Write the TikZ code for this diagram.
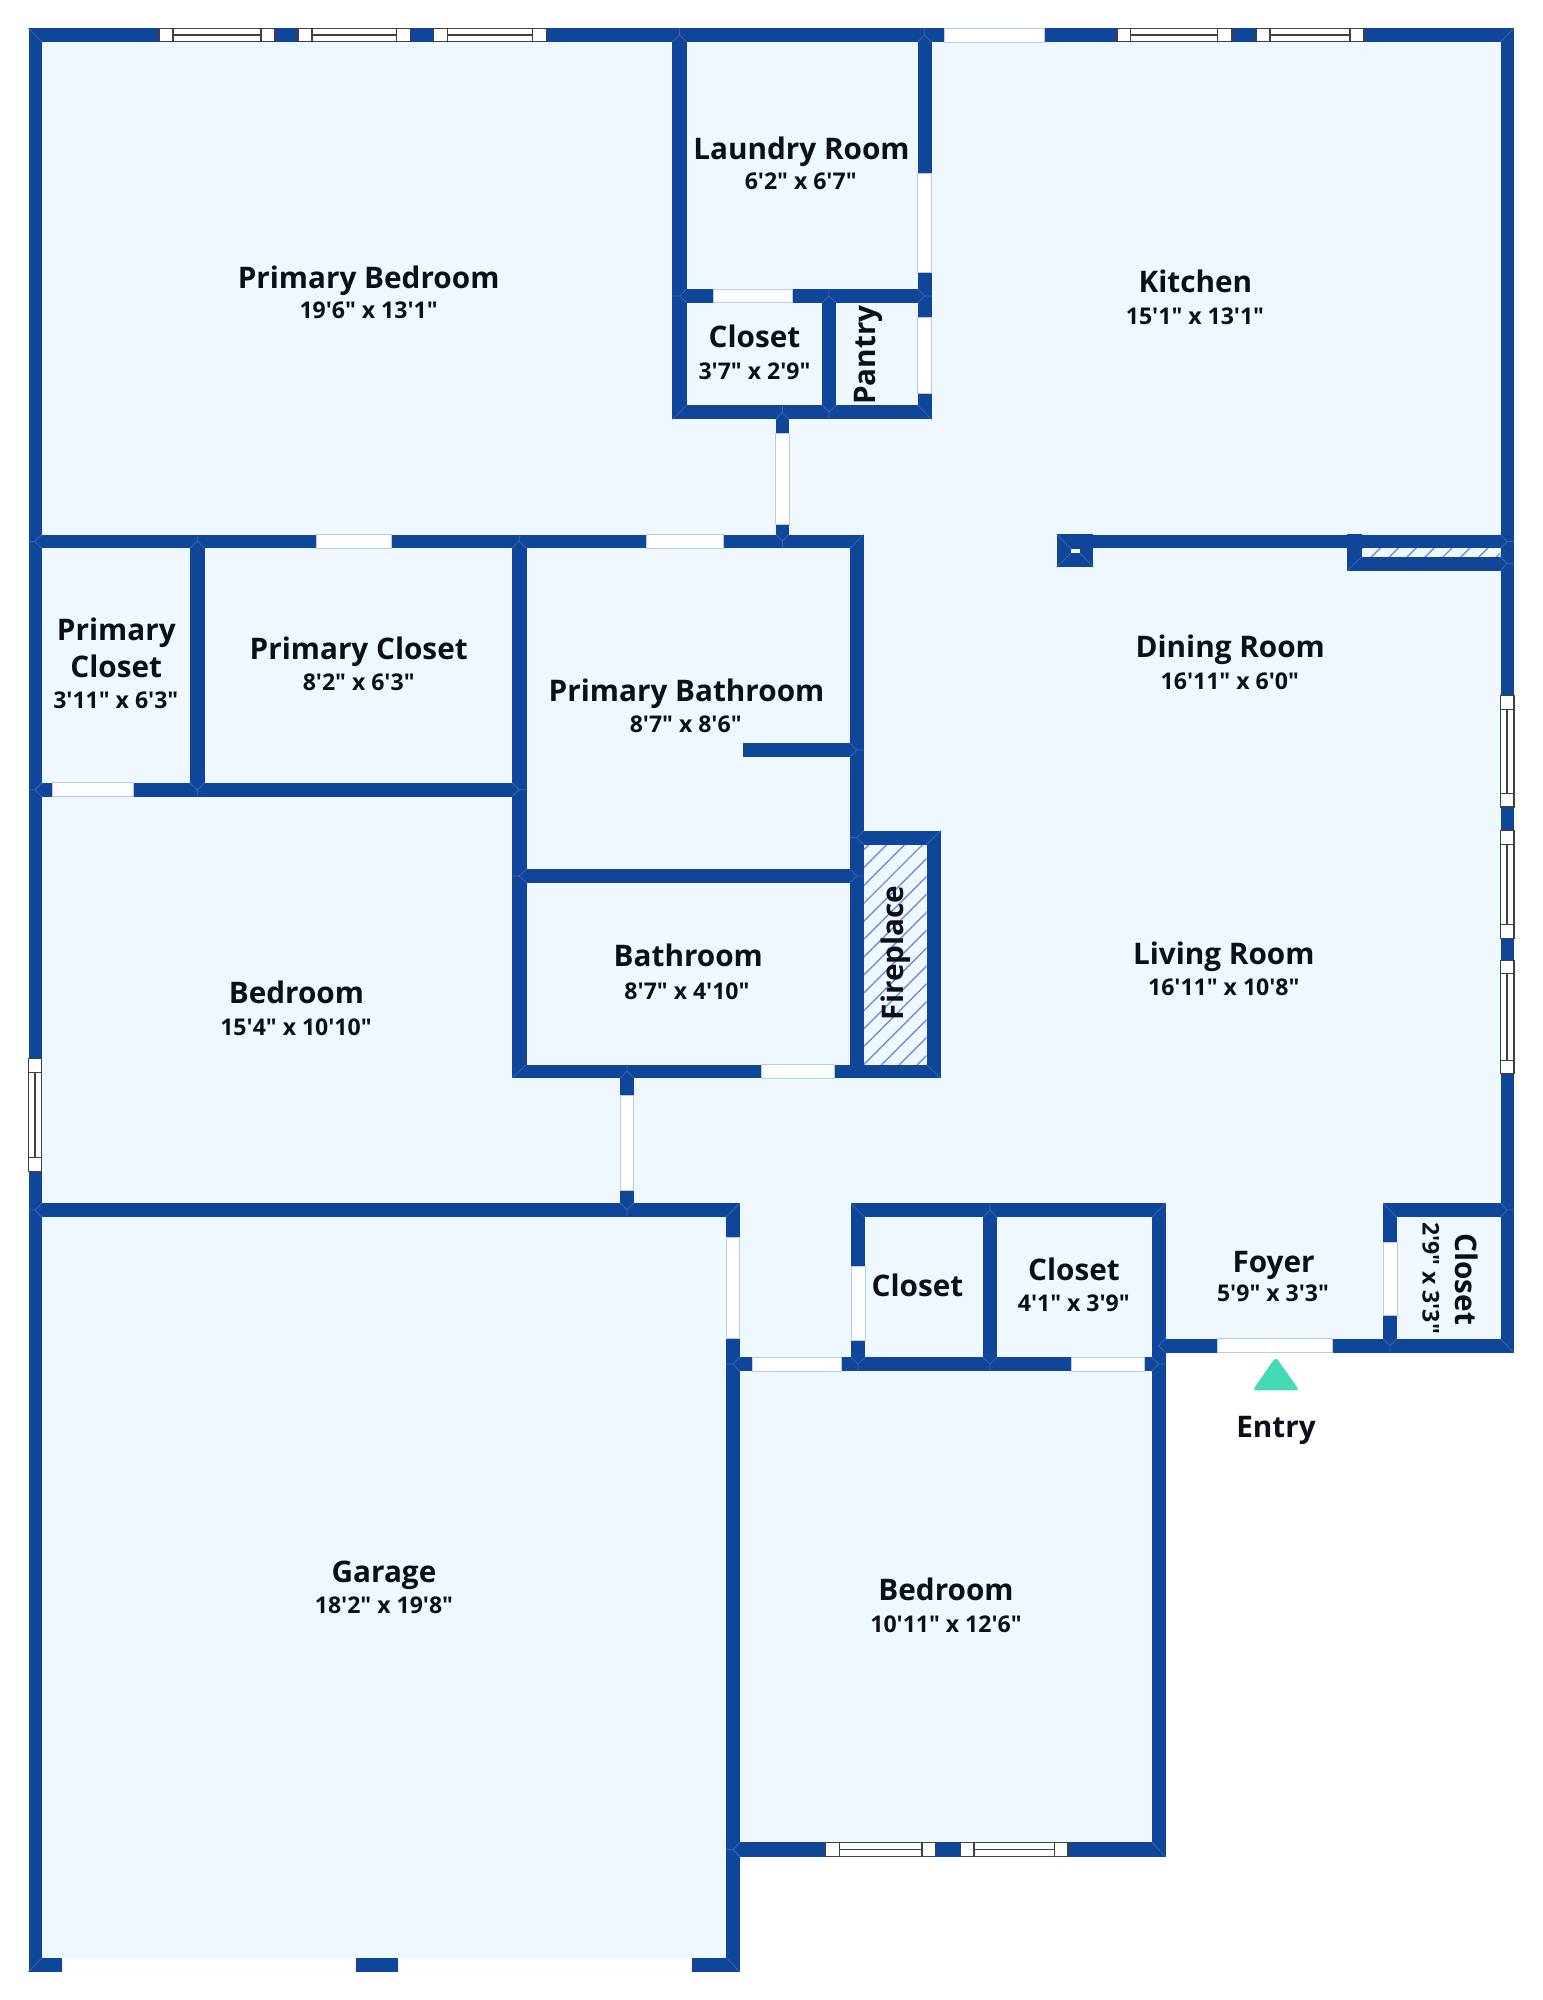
\documentclass[tikz,border=0pt]{standalone}
\usepackage{fontspec}
\setmainfont{Open Sans}
\newfontfamily\labelfont{Open Sans}
\usetikzlibrary{patterns.meta}
\definecolor{wallblue}{HTML}{0F4699}
\definecolor{roomblue}{HTML}{F0F8FF}
\definecolor{doorline}{HTML}{B8CAE6}
\definecolor{seamblue}{HTML}{3A69B0}
\definecolor{entrygreen}{HTML}{45D9B5}
\definecolor{hatchblue}{HTML}{6C93CF}
\definecolor{textblack}{HTML}{0B0F1A}
\begin{document}
\begin{tikzpicture}[x=0.01cm,y=-0.01cm,
    wall/.style={fill=wallblue},
    seam/.style={draw=seamblue,line width=0.2pt},
    door/.style={fill=white,draw=doorline,line width=0.25pt},
    window/.style={fill=white,draw=black!75,line width=0.3pt},
    hatchbox/.style={pattern={Lines[angle=45,distance=3.6pt,line width=0.4pt]},pattern color=hatchblue},
    roomname/.style={font=\labelfont\bfseries\fontsize{8.45}{10}\selectfont,text=textblack,inner sep=0pt,text height=6.3pt,text depth=0pt},
    roomdim/.style={font=\labelfont\bfseries\fontsize{6.55}{8}\selectfont,text=textblack,inner sep=0pt,text height=5pt,text depth=0pt}]
    \useasboundingbox (0,0) rectangle (1542,2000);

    % floor
    \fill[roomblue] (28.5,28.3) -| (1514,1352.7) -| (1165.5,1856.7) -| (740,1971.7) -| cycle;

    % hatching
    \fill[hatchbox] (863.7,844.5) rectangle (926.6,1064.6);
    \fill[hatchbox] (1361.6,548) rectangle (1500.3,556.7);

    % outer walls
    \fill[wall] (28.5,28.3) rectangle (1514,42);
    \fill[wall] (28.5,28.3) rectangle (41.8,1971.7);
    \fill[wall] (1500.5,28.3) rectangle (1514,1352.7);
    \fill[wall] (28.5,1957.7) rectangle (739.8,1971.7);
    \fill[wall] (726.3,1203.3) rectangle (739.8,1971.7);
    \fill[wall] (1151.7,1338.7) rectangle (1514,1352.7);
    \fill[wall] (1151.7,1203.3) rectangle (1165.5,1856.7);
    \fill[wall] (726.3,1842.3) rectangle (1165.5,1856.7);

    % laundry, closet, pantry
    \fill[wall] (672.4,28.3) rectangle (686.7,419.4);
    \fill[wall] (917.6,28.3) rectangle (931.6,419.4);
    \fill[wall] (672.4,289) rectangle (931.6,302.7);
    \fill[wall] (672.4,405.3) rectangle (931.6,419.4);
    \fill[wall] (822,289) rectangle (836,419.4);
    \fill[wall] (775.8,405.3) rectangle (789,548.4);

    % primary suite
    \fill[wall] (28.5,534.5) rectangle (863.7,548.4);
    \fill[wall] (190,534.5) rectangle (204.6,796.6);
    \fill[wall] (28.5,782.8) rectangle (526.5,796.6);
    \fill[wall] (512,534.5) rectangle (526.5,1078);
    \fill[wall] (849.8,534.5) rectangle (863.7,1078);
    \fill[wall] (743,743) rectangle (863.7,757);
    \fill[wall] (512,868.9) rectangle (863.7,882.8);
    \fill[wall] (512,1064.6) rectangle (940.5,1078);

    % fireplace
    \fill[wall] (849.8,830.6) rectangle (940.5,844.5);
    \fill[wall] (926.6,830.6) rectangle (940.5,1078);

    % garage top and hall
    \fill[wall] (620.4,1064.6) rectangle (633.7,1217.2);
    \fill[wall] (28.5,1203.3) rectangle (739.8,1217.2);

    % closets by the foyer
    \fill[wall] (851,1203.3) rectangle (1165.6,1217.3);
    \fill[wall] (851,1203.3) rectangle (865,1371.3);
    \fill[wall] (983,1203.3) rectangle (997,1371.3);
    \fill[wall] (726.3,1357.3) rectangle (1165.6,1371.3);
    \fill[wall] (1383,1203.3) rectangle (1514,1217.3);
    \fill[wall] (1383,1203.3) rectangle (1397,1352.7);

    % kitchen wall
    \fill[wall] (1086,534.5) rectangle (1514,548.3);
    \fill[wall] (1056.7,534.3) rectangle (1093.4,567);
    \fill[roomblue] (1071,548.7) rectangle (1079.6,553);
    \fill[wall] (1347.4,534.3) rectangle (1361.6,570.7);
    \fill[wall] (1347.4,556.7) rectangle (1514,570.7);

    % seams, outer corners
    \draw[seam] (28.5,28.3) -- (41.8,42) (1514,28.3) -- (1500.5,42);
    \draw[seam] (28.5,1971.7) -- (41.8,1957.7) (739.8,1971.7) -- (726.3,1957.7);
    \draw[seam] (672.4,419.4) -- (686.7,405.3) (931.6,419.4) -- (917.6,405.3);
    \draw[seam] (863.7,534.5) -- (849.8,548.4) (512,1078) -- (526.5,1064.6);
    \draw[seam] (940.5,830.6) -- (926.6,844.5) (940.5,1078) -- (926.6,1064.6);
    \draw[seam] (739.8,1203.3) -- (726.3,1217.2) (851,1203.3) -- (865,1217.3);
    \draw[seam] (1165.6,1203.3) -- (1151.7,1217.3) (1383,1203.3) -- (1397,1217.3);
    \draw[seam] (1514,1352.7) -- (1500.5,1338.7) (1165.5,1856.7) -- (1151.7,1842.3);
    \draw[seam] (1347.4,570.7) -- (1361.6,556.7);
    \draw[seam] (1056.7,534.3) -- (1071,548.7) (1056.7,567) -- (1071,553) (1093.4,567) -- (1079.6,553);

    % seams, stem below
    \draw[seam] (672.4,42) -- (679.5,35) -- (686.7,42) (679.5,35) -- (679.5,28.3);
    \draw[seam] (917.6,42) -- (924.6,35) -- (931.6,42) (924.6,35) -- (924.6,28.3);
    \draw[seam] (775.8,419.4) -- (782.4,412) -- (789,419.4) (782.4,412) -- (782.4,405.3);
    \draw[seam] (190,548.4) -- (197.3,541) -- (204.6,548.4) (197.3,541) -- (197.3,534.5);
    \draw[seam] (512,548.4) -- (519.2,541) -- (526.5,548.4) (519.2,541) -- (519.2,534.5);
    \draw[seam] (822,302.7) -- (829,296) -- (836,302.7) (829,296) -- (829,289);
    \draw[seam] (620.4,1078) -- (627,1071) -- (633.7,1078) (627,1071) -- (627,1064.6);
    \draw[seam] (983,1217.3) -- (990,1210) -- (997,1217.3) (990,1210) -- (990,1203.3);

    % seams, stem above
    \draw[seam] (822,405.3) -- (829,412) -- (836,405.3) (829,412) -- (829,419.4);
    \draw[seam] (190,782.8) -- (197.3,790) -- (204.6,782.8) (197.3,790) -- (197.3,796.6);
    \draw[seam] (775.8,534.5) -- (782.4,541) -- (789,534.5) (782.4,541) -- (782.4,548.4);
    \draw[seam] (620.4,1203.3) -- (627,1210) -- (633.7,1203.3) (627,1210) -- (627,1217.2);
    \draw[seam] (851,1357.3) -- (858,1364) -- (865,1357.3) (858,1364) -- (858,1371.3);
    \draw[seam] (983,1357.3) -- (990,1364) -- (997,1357.3) (990,1364) -- (990,1371.3);
    \draw[seam] (1383,1338.7) -- (1390,1345.7) -- (1397,1338.7) (1390,1345.7) -- (1390,1352.7);

    % seams, stem to the right
    \draw[seam] (41.8,534.5) -- (35,541.5) -- (41.8,548.4) (35,541.5) -- (28.5,541.5);
    \draw[seam] (41.8,782.8) -- (35,789.7) -- (41.8,796.6) (35,789.7) -- (28.5,789.7);
    \draw[seam] (41.8,1203.3) -- (35,1210) -- (41.8,1217.2) (35,1210) -- (28.5,1210);
    \draw[seam] (686.7,289) -- (679.5,296) -- (686.7,302.7) (679.5,296) -- (672.4,296);
    \draw[seam] (526.5,868.9) -- (519.2,876) -- (526.5,882.8) (519.2,876) -- (512,876);
    \draw[seam] (863.7,830.6) -- (856.7,837.5) -- (863.7,844.5) (856.7,837.5) -- (849.8,837.5);
    \draw[seam] (739.8,1357.3) -- (733,1364) -- (739.8,1371.3) (733,1364) -- (726.3,1364);
    \draw[seam] (739.8,1842.3) -- (733,1849.5) -- (739.8,1856.7) (733,1849.5) -- (726.3,1849.5);
    \draw[seam] (1165.5,1338.7) -- (1158.6,1345.7) -- (1165.5,1352.7);

    % seams, stem to the left
    \draw[seam] (917.6,289) -- (924.6,296) -- (917.6,302.7) (924.6,296) -- (931.6,296);
    \draw[seam] (512,782.8) -- (519.2,789.7) -- (512,796.6) (519.2,789.7) -- (526.5,789.7);
    \draw[seam] (849.8,743) -- (856.7,750) -- (849.8,757) (856.7,750) -- (863.7,750);
    \draw[seam] (849.8,868.9) -- (856.7,876) -- (849.8,882.8) (856.7,876) -- (863.7,876);
    \draw[seam] (1500.5,534.5) -- (1507,541.5) -- (1500.5,548.3) (1507,541.5) -- (1514,541.5);
    \draw[seam] (1500.5,556.7) -- (1507,563.7) -- (1500.5,570.7) (1507,563.7) -- (1514,563.7);
    \draw[seam] (1500.5,1203.3) -- (1507,1210) -- (1500.5,1217.3) (1507,1210) -- (1514,1210);
    \draw[seam] (1151.7,1357.3) -- (1158.6,1364) -- (1151.7,1371.3) (1158.6,1364) -- (1165.5,1364);

    % doors
    \draw[door] (944,28.3) rectangle (1044,42);
    \draw[door] (917.6,173.4) rectangle (931.6,272.9);
    \draw[door] (917.6,317.3) rectangle (931.6,393.4);
    \draw[door] (713,289) rectangle (792.4,302.7);
    \draw[door] (775.8,433.6) rectangle (789,524.7);
    \draw[door] (316,534.5) rectangle (391,548.4);
    \draw[door] (646,534.5) rectangle (723.5,548.4);
    \draw[door] (52.6,782.8) rectangle (133,796.6);
    \draw[door] (761.5,1064.6) rectangle (834.8,1078);
    \draw[door] (620.4,1095) rectangle (633.7,1190);
    \draw[door] (726.3,1237.3) rectangle (739.8,1338.3);
    \draw[door] (851,1266.3) rectangle (865,1340.3);
    \draw[door] (752,1357.3) rectangle (841.8,1371.3);
    \draw[door] (1071.6,1357.3) rectangle (1144,1371.3);
    \draw[door] (1217.7,1338.7) rectangle (1332.7,1352.7);
    \draw[door] (1383,1242) rectangle (1397,1315);
    \draw[door,draw=roomblue] (62.7,1957.7) rectangle (355.8,1971.7);
    \draw[door,draw=roomblue] (398.6,1957.7) rectangle (691,1971.7);

    % windows
    \draw[window] (159,28.3) rectangle (275,41.7) (173,28.3) -- (173,41.7) (261,28.3) -- (261,41.7) (173,35) -- (261,35);
    \draw[window] (298,28.3) rectangle (410.7,41.7) (312,28.3) -- (312,41.7) (396.7,28.3) -- (396.7,41.7) (312,35) -- (396.7,35);
    \draw[window] (433.3,28.3) rectangle (546.7,41.7) (447.3,28.3) -- (447.3,41.7) (532.7,28.3) -- (532.7,41.7) (447.3,35) -- (532.7,35);
    \draw[window] (1117,28.3) rectangle (1232,41.7) (1130.6,28.3) -- (1130.6,41.7) (1217.9,28.3) -- (1217.9,41.7) (1130.6,35) -- (1217.9,35);
    \draw[window] (1256,28.3) rectangle (1364,41.7) (1270,28.3) -- (1270,41.7) (1350,28.3) -- (1350,41.7) (1270,35) -- (1350,35);
    \draw[window] (825.6,1842.8) rectangle (935.7,1856.2) (839.3,1842.8) -- (839.3,1856.2) (922,1842.8) -- (922,1856.2) (839.3,1849.5) -- (922,1849.5);
    \draw[window] (960.2,1842.8) rectangle (1068,1856.2) (974,1842.8) -- (974,1856.2) (1054.3,1842.8) -- (1054.3,1856.2) (974,1849.5) -- (1054.3,1849.5);
    \draw[window] (28.5,1058.4) rectangle (41.8,1171.8) (28.5,1072.2) -- (41.8,1072.2) (28.5,1157.9) -- (41.8,1157.9) (35,1072.2) -- (35,1157.9);
    \draw[window] (1500.5,695.7) rectangle (1514,807) (1500.5,709.6) -- (1514,709.6) (1500.5,793.8) -- (1514,793.8) (1507,709.6) -- (1507,793.8);
    \draw[window] (1500.5,830.6) rectangle (1514,938.8) (1500.5,844.5) -- (1514,844.5) (1500.5,924.9) -- (1514,924.9) (1507,844.5) -- (1507,924.9);
    \draw[window] (1500.5,960.3) rectangle (1514,1073.7) (1500.5,973.7) -- (1514,973.7) (1500.5,1060.3) -- (1514,1060.3) (1507,973.7) -- (1507,1060.3);

    % entry mark
    \fill[entrygreen,rounded corners=1pt] (1275.7,1357) -- (1299.4,1390.3) -- (1252.6,1390.3) -- cycle;

    % labels
    \node[roomname] (primarybed) at (368.6,277.5) {Primary Bedroom};
    \node[roomdim] (primarybeddim) at (368.6,310) {19'6" x 13'1"};
    \node[roomname] (laundry) at (801.5,148.5) {Laundry Room};
    \node[roomdim] (laundrydim) at (800.7,181) {6'2" x 6'7"};
    \node[roomname] (closetmid) at (754.5,336.8) {Closet};
    \node[roomdim] (closetmiddim) at (754.5,370.5) {3'7" x 2'9"};
    \node[roomname,rotate=90] (pantry) at (864.7,355) {Pantry};
    \node[roomname] (kitchen) at (1195.4,281.3) {Kitchen};
    \node[roomdim] (kitchendim) at (1195,315.3) {15'1" x 13'1"};
    \node[roomname] (primaryclosetone) at (116.3,629) {Primary};
    \node[roomname] (primaryclosettwo) at (116.3,666.5) {Closet};
    \node[roomdim] (primaryclosetdim) at (115.8,700) {3'11" x 6'3"};
    \node[roomname] (primarycloset) at (358.7,648.3) {Primary Closet};
    \node[roomdim] (primaryclosetbdim) at (358.7,681.8) {8'2" x 6'3"};
    \node[roomname] (primarybath) at (686.5,690) {Primary Bathroom};
    \node[roomdim] (primarybathdim) at (685.7,723.4) {8'7" x 8'6"};
    \node[roomname] (bedroomwest) at (296.4,992.8) {Bedroom};
    \node[roomdim] (bedroomwestdim) at (296,1026.3) {15'4" x 10'10"};
    \node[roomname] (bathroom) at (688.3,955.5) {Bathroom};
    \node[roomdim] (bathroomdim) at (687,990.4) {8'7" x 4'10"};
    \node[roomname] (dining) at (1230.3,646) {Dining Room};
    \node[roomdim] (diningdim) at (1229.8,680.4) {16'11" x 6'0"};
    \node[roomname] (living) at (1223.8,953) {Living Room};
    \node[roomdim] (livingdim) at (1223.8,987) {16'11" x 10'8"};
    \node[roomname,rotate=90] (fireplace) at (892,953) {Fireplace};
    \node[roomname] (garage) at (384,1571.5) {Garage};
    \node[roomdim] (garagedim) at (384,1605) {18'2" x 19'8"};
    \node[roomname] (bedroomsouth) at (946,1589) {Bedroom};
    \node[roomdim] (bedroomsouthdim) at (946,1624) {10'11" x 12'6"};
    \node[roomname] (closetwest) at (917.5,1285.7) {Closet};
    \node[roomname] (closeteast) at (1074,1269) {Closet};
    \node[roomdim] (closeteastdim) at (1073.8,1302.7) {4'1" x 3'9"};
    \node[roomname] (foyer) at (1273.6,1261.7) {Foyer};
    \node[roomdim] (foyerdim) at (1273,1293) {5'9" x 3'3"};
    \node[roomname,rotate=-90] (closetfoyer) at (1467,1279.3) {Closet};
    \node[roomdim,rotate=-90] (closetfoyerdim) at (1431.5,1278) {2'9" x 3'3"};
    \node[roomname] (entry) at (1276,1426.7) {Entry};
\end{tikzpicture}
\end{document}
